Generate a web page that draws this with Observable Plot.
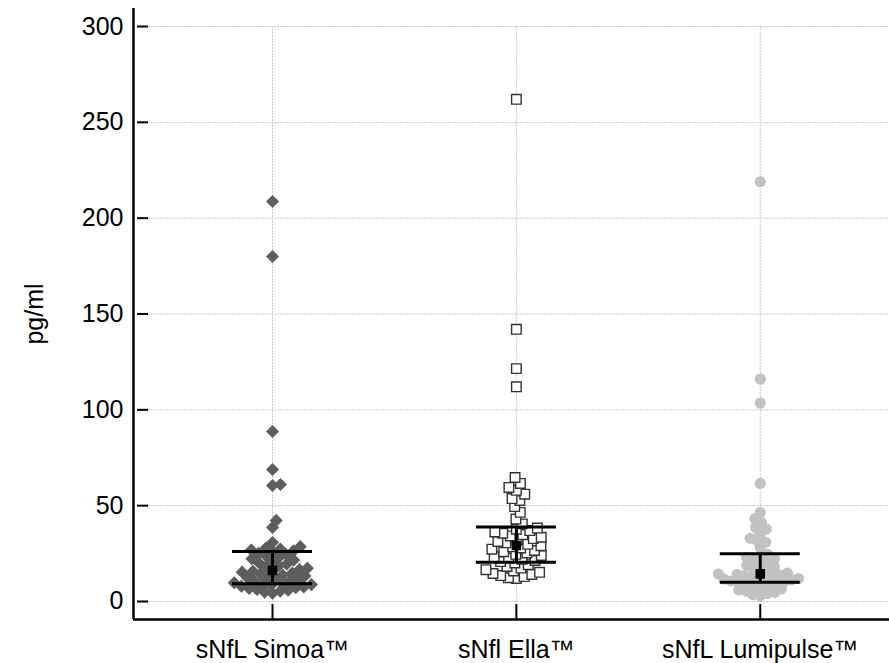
<!DOCTYPE html>
<html><head><meta charset="utf-8">
<script src="https://cdn.jsdelivr.net/npm/d3@7"></script>
<script src="https://cdn.jsdelivr.net/npm/@observablehq/plot@0.6"></script>
<style>body{margin:0;background:#fff}</style>
</head><body><div id="chart"></div>
<script>
const categories = ["sNfL Simoa™", "sNfl Ella™", "sNfL Lumipulse™"];
const simoa = [4.3, 4.9, 5.4, 5.9, 6.3, 6.8, 7.2, 7.6, 8.0, 8.4, 8.8, 9.1, 9.4,
  9.8, 10.3, 10.8, 11.3, 11.8, 12.3, 12.8, 13.3, 13.8, 14.3, 14.8, 15.3, 15.8, 16.1,
  16.7, 17.4, 18.1, 18.8, 19.5, 20.2, 20.9, 21.6, 22.3, 23.0, 23.7, 24.4, 25.1, 25.8,
  26.4, 26.9, 27.4, 27.9, 28.6, 30.8,
  38.6, 42.3, 60.5, 61.0, 68.9, 88.7, 180, 208.7];
const ella = [12.0, 12.4, 13.0, 13.5, 14.1, 14.6, 15.2, 15.9, 16.6, 17.4, 18.3, 19.2, 20.1,
  20.8, 21.4, 22.0, 22.7, 23.3, 24.0, 24.6, 25.3, 26.0, 26.6, 27.3, 27.9, 28.5, 29.1,
  29.8, 30.6, 31.3, 32.0, 32.8, 33.5, 34.2, 34.9, 35.6, 36.3, 37.0, 37.7, 38.3,
  40.5, 43.0, 46.5, 49.5, 52.7, 53.7, 56.0, 58.0, 59.5, 61.6, 64.7, 112, 121.5, 142, 262];
const lumipulse = [3.0, 3.6, 4.2, 4.8, 5.4, 6.0, 6.6, 7.2, 7.8, 8.4, 9.0, 9.5, 10.0,
  10.3, 10.7, 11.0, 11.3, 11.7, 12.0, 12.4, 12.8, 13.1, 13.5, 13.8, 14.1, 14.3,
  14.8, 15.5, 16.3, 17.1, 18.0, 18.9, 19.8, 20.6, 21.4, 22.2, 23.0, 23.8, 24.6,
  28.2, 30.9, 31.8, 33.0, 35.5, 37.8, 38.6, 41.2, 43.3, 46.4, 61.6, 103.5, 116, 219];
const medians = [16.2, 29.2, 14.4];
const q1 = [9.2, 20.5, 10.1];
const q3 = [26.1, 38.8, 24.9];
const yTicks = [0, 50, 100, 150, 200, 250, 300];

const W = 889, H = 663, mL = 133, mR = 0, mT = 8, mB = 44;
const xDomain = [-0.57, 2.53];
const yDomain = [-9.4, 309.4];
const kx = (W - mL - mR) / (xDomain[1] - xDomain[0]);
const ky = (H - mT - mB) / (yDomain[1] - yDomain[0]);
const catIdx = categories.map((d, i) => i);

function swarm(values, gi, D) {
  const placed = [];
  const order = values.map((v, k) => k).sort((a, b) => values[a] - values[b]);
  const out = [];
  let flip = 1;
  for (const k of order) {
    const py = values[k] * ky;
    const cands = [0];
    for (const p of placed) {
      const dy = Math.abs(p.y - py);
      if (dy < D) { const dx = Math.sqrt(D * D - dy * dy); cands.push(p.x + dx, p.x - dx); }
    }
    cands.sort((a, b) => (Math.abs(a) - Math.abs(b)) || (flip * (b - a)));
    let best = 0;
    for (const c of cands) {
      if (placed.every(p => (p.x - c) ** 2 + (p.y - py) ** 2 >= D * D - 1e-6)) { best = c; break; }
    }
    flip = -flip;
    placed.push({x: best, y: py});
    out.push({group: categories[gi], value: values[k], x: gi + best / kx});
  }
  return out;
}
const simoaData = swarm(simoa, 0, 8);
const ellaData = swarm(ella, 1, 8);
const lumiData = swarm(lumipulse, 2, 7.5);
const stats = catIdx.map(i => ({i, med: medians[i], q1: q1[i], q3: q3[i]}));
const hw = 40 / kx;
const gridStyle = {stroke: "#c8c8c8", strokeWidth: 1, strokeDasharray: "2,1"};

const plot = Plot.plot({
  width: W, height: H, marginLeft: mL, marginRight: mR, marginTop: mT, marginBottom: mB,
  style: {fontFamily: "'Liberation Sans', Arial, sans-serif", fontSize: "25px", color: "#000", background: "#fff", overflow: "visible"},
  x: {domain: xDomain, axis: null},
  y: {domain: yDomain, axis: null},
  marks: [
    Plot.ruleY(yTicks, {...gridStyle, insetLeft: 15}),
    Plot.ruleX(catIdx, {...gridStyle, y1: yTicks[0], y2: yTicks[yTicks.length - 1]}),
    Plot.dot(simoaData, {x: "x", y: "value", symbol: "diamond2", r: 5.9, fill: "#5e5e5e"}),
    Plot.dot(ellaData, {x: "x", y: "value", symbol: "square", r: 5.4, fill: "#fff", stroke: "#333", strokeWidth: 1.4}),
    Plot.dot(lumiData, {x: "x", y: "value", r: 5.6, fill: "#c2c2c2"}),
    Plot.ruleY(stats, {y: "q1", x1: d => d.i - hw, x2: d => d.i + hw, stroke: "#000", strokeWidth: 3}),
    Plot.ruleY(stats, {y: "q3", x1: d => d.i - hw, x2: d => d.i + hw, stroke: "#000", strokeWidth: 3}),
    Plot.ruleX(stats, {x: "i", y1: "q1", y2: "q3", stroke: "#000", strokeWidth: 3}),
    Plot.dot(stats, {x: "i", y: "med", symbol: "square", r: 5.4, fill: "#000"}),
    Plot.ruleX([xDomain[0]], {stroke: "#000", strokeWidth: 2.5}),
    Plot.ruleY([yDomain[0]], {stroke: "#000", strokeWidth: 2.5}),
    Plot.axisY(yTicks, {anchor: "left", tickSize: -11, insetLeft: 4, tickPadding: 25, strokeWidth: 2,
      label: "pg/ml", labelAnchor: "center", labelArrow: "none", labelOffset: 108}),
    Plot.axisX(catIdx, {anchor: "bottom", tickSize: -15, tickPadding: 36, strokeWidth: 2,
      tickFormat: i => categories[i], label: null})
  ]
});
document.getElementById("chart").appendChild(plot);
</script>
</body></html>
